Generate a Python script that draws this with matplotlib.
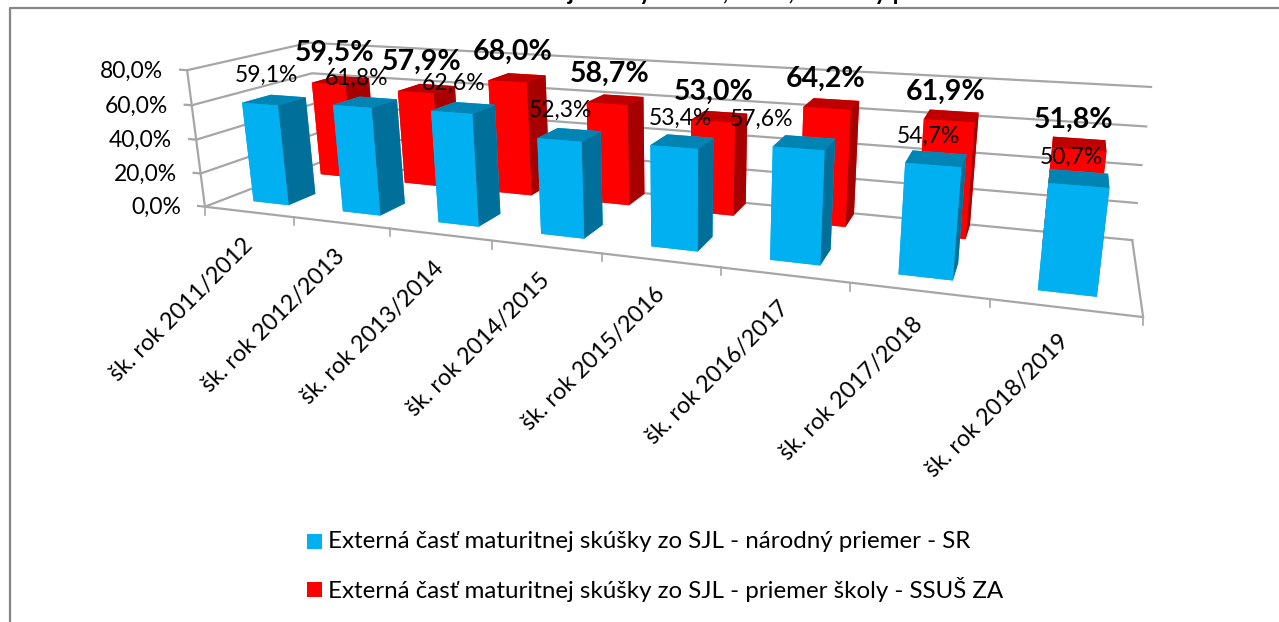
import numpy as np
import matplotlib
matplotlib.use('Agg')
import matplotlib.pyplot as plt
from matplotlib.patches import Rectangle
from mpl_toolkits.mplot3d import proj3d

plt.rcParams['font.family'] = ['Lato', 'DejaVu Sans']

# Data
categories = ['šk. rok 2011/2012', 'šk. rok 2012/2013', 'šk. rok 2013/2014', 'šk. rok 2014/2015',
              'šk. rok 2015/2016', 'šk. rok 2016/2017', 'šk. rok 2017/2018', 'šk. rok 2018/2019']
national_avg = [59.1, 61.8, 62.6, 52.3, 53.4, 57.6, 54.7, 50.7]
school_avg = [59.5, 57.9, 68.0, 58.7, 53.0, 64.2, 61.9, 51.8]
z_ticks = [0, 20, 40, 60, 80]
z_tick_labels = ['0,0%', '20,0%', '40,0%', '60,0%', '80,0%']
legend_labels = ['Externá časť maturitnej skúšky zo SJL - národný priemer - SR',
                 'Externá časť maturitnej skúšky zo SJL - priemer školy - SSUŠ ZA']
# the title is cut off by the top of the picture, only its lowest pixels show
title_text = 'Externá časť maturitnej skúšky zo SJL, škola, národný priemer'

# Data labels were placed freely in the original, centres in picture pixels
national_label_x = [266, 356, 454, 560, 680, 762, 928, 1071]
national_label_y = [75, 78, 83, 110, 118, 119, 136, 157]
school_label_x = [335, 422, 513, 610, 714, 826, 946, 1074]
school_label_y = [53, 62, 52, 74, 92, 79, 92, 120]

GRID = '#a6a6a6'
BLUE_FACES = ['#00b0f0', '#0084b4', '#00b0f0', '#00b0f0', '#00b0f0', '#006f9a']
RED_FACES = ['#ff0000', '#bf0000', '#ff0000', '#ff0000', '#ff0000', '#a60000']

# Bar placement inside the box
x_offset = 0.31
bar_w = 0.4
bar_d = 0.23
school_y = 0.76
national_y = 0.17


# Fit the camera of the old Excel 3D chart from where box and bar corners sit in the picture
def fit_camera():
    world = [(0, 0, 0), (8, 0, 0), (8, 1, 0), (0, 1, 0), (0, 0, 80), (0, 1, 80), (8, 1, 80),
             (1, 0, 0), (2, 0, 0), (3, 0, 0), (4, 0, 0), (5, 0, 0), (6, 0, 0), (7, 0, 0),
             (8, 1, 60), (8, 1, 40), (8, 1, 20), (0, 0, 60), (0, 0, 40), (0, 0, 20),
             (0.31, 0.17, 59.1), (0.71, 0.17, 59.1), (0.31, 0.17, 0), (0.71, 0.17, 0),
             (4.31, 0.17, 53.4), (4.71, 0.17, 53.4), (4.31, 0.17, 0), (4.71, 0.17, 0),
             (6.31, 0.17, 54.7), (6.71, 0.17, 54.7), (6.31, 0.17, 0), (6.71, 0.17, 0),
             (7.31, 0.17, 50.7), (7.71, 0.17, 50.7), (7.31, 0.17, 0), (7.71, 0.17, 0),
             (7.31, 0.76, 51.8), (7.71, 0.76, 51.8)]
    image = [(204, 206), (1144, 320), (1130, 233), (320, 170), (187, 69), (308, 43), (1152, 86),
             (294, 217), (390, 229), (492, 241), (602, 254), (722, 269), (850, 284), (991, 301),
             (1147, 124), (1143, 161), (1138, 198), (190, 104), (196, 137), (200, 171),
             (244, 103), (281, 105), (253, 200), (290, 202),
             (651, 146), (697, 148), (651, 247), (697, 250),
             (905, 165), (960, 168), (900, 275), (953, 280),
             (1048, 185), (1107, 188), (1038, 289), (1097, 297),
             (1052, 155), (1105, 157)]
    rows = []
    for (x, y, z), (u, v) in zip(world, image):
        # scale z so the system is not badly conditioned
        p = [x, y, z / 80, 1]
        rows.append(p + [0, 0, 0, 0] + [-u * c for c in p])
        rows.append([0, 0, 0, 0] + p + [-v * c for c in p])
    _, _, vt = np.linalg.svd(np.array(rows, dtype=float))
    P = vt[-1].reshape(3, 4)
    P[:, 2] = P[:, 2] / 80
    if P[2, 3] < 0:
        P = -P
    P = P / P[2, 3]
    # depth row: grows away from the viewer, mplot3d draws the largest first
    return np.array([P[0], P[1], [0, 0, 0, -1], P[2]])


M = fit_camera()


def to_px(x, y, z):
    u, v, _ = proj3d.proj_transform(x, y, z, M)
    return float(u), float(v)


fig = plt.figure(figsize=(12.79, 6.22), dpi=100)


def pixel_axes(zorder):
    a = fig.add_axes([0, 0, 1, 1], zorder=zorder)
    a.set_xlim(0, 1279)
    a.set_ylim(622, 0)
    a.axis('off')
    return a


under = pixel_axes(0)
over = pixel_axes(5)

ax = fig.add_axes([0, 0, 1, 1], projection='3d', computed_zorder=False, zorder=1)
ax.set_axis_off()
ax.patch.set_visible(False)
ax.get_proj = lambda: M
ax.apply_aspect = lambda position=None: None
ax.viewLim.intervalx = (0, 1279)
ax.viewLim.intervaly = (622, 0)


def box_line(points, lw=1.6):
    px = [to_px(*p) for p in points]
    under.plot([p[0] for p in px], [p[1] for p in px], color=GRID, lw=lw, solid_joinstyle='miter')


# Walls and floor
for i, z in enumerate(z_ticks):
    box_line([(-0.08, 0, z), (0, 0, z), (0, 1, z), (8, 1, z)])
    u, v = to_px(0, 0, z)
    over.text(u - 24, v + 1, z_tick_labels[i], ha='right', va='center', fontsize=16.5, color='black')
box_line([(0, 0, 0), (0, 0, 80)])
box_line([(0, 0, 0), (8, 0, 0), (8, 1, 0)])
for i in range(len(categories) + 1):
    u, v = to_px(i, 0, 0)
    under.plot([u, u], [v, v + 8], color=GRID, lw=1.2)

# Bars, the school series stands behind the national one
n = len(categories)
x_pos = np.arange(n) + x_offset
for i in range(n):
    ax.bar3d(x_pos[i], school_y, 0, bar_w, bar_d, school_avg[i],
             color=RED_FACES, shade=False, linewidth=0, zorder=2 + i * 0.01)
for i in range(n):
    ax.bar3d(x_pos[i], national_y, 0, bar_w, bar_d, national_avg[i],
             color=BLUE_FACES, shade=False, linewidth=0, zorder=3 + i * 0.01)

# Data labels
for i in range(n):
    over.text(national_label_x[i], national_label_y[i], f'{national_avg[i]:.1f}%'.replace('.', ','),
              ha='center', va='center', fontsize=16.5, color='black')
    over.text(school_label_x[i], school_label_y[i], f'{school_avg[i]:.1f}%'.replace('.', ','),
              ha='center', va='center', fontsize=20.5, fontweight='bold', color='black')

# Category labels
for i, name in enumerate(categories):
    u, v = to_px(i + 0.5, 0, 0)
    over.text(u - 7, v + 23, name, rotation=45, rotation_mode='anchor', ha='right', va='top',
              fontsize=16.8, color='black')

# Chart frame, open on the right and at the bottom
over.plot([10, 10, 1279], [622, 8, 8], color='#868686', lw=1.6, clip_on=False)
over.text(652, 0, title_text, ha='center', va='baseline', fontsize=17, fontweight='bold', color='black')

# Legend
for y, col, label in zip([541.5, 589.5], ['#00b0f0', '#ff0000'], legend_labels):
    over.add_patch(Rectangle((307, y - 7.5), 15, 15, facecolor=col, edgecolor='none'))
    over.text(328, y, label, ha='left', va='center', fontsize=17.4, color='black')

fig.savefig('out.png', dpi=100)
